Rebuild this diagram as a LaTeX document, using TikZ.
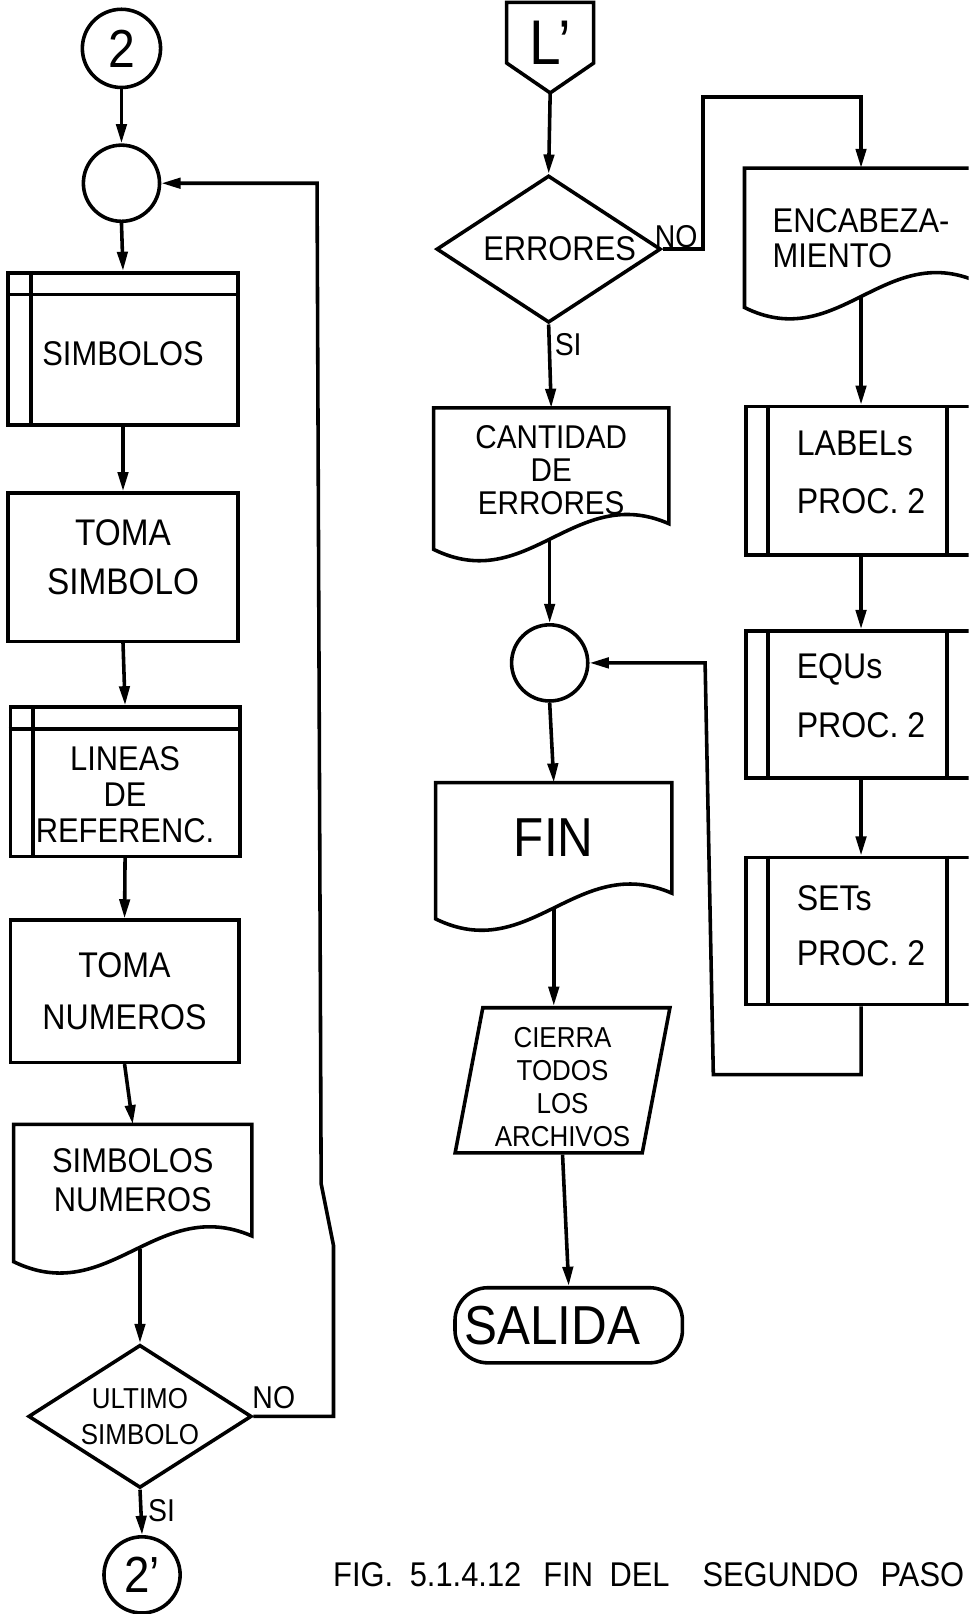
\documentclass[tikz,border=0pt]{standalone}
\usepackage{fontspec}
\setmainfont{Liberation Sans}[FakeStretch=0.9]
\usetikzlibrary{arrows.meta,calc,shapes.geometric}

\tikzset{every picture/.style={line width=2.6pt}}
\tikzset{
  fs/.style 2 args={font=\fontsize{#1}{#2}\selectfont},
  box/.style={draw, rectangle, inner sep=0pt, align=center},
  conn/.style={draw, circle, inner sep=0pt, minimum size=55.5pt},
  doc/.style={rectangle, inner sep=0pt, align=center},
  dec/.style={draw, diamond, aspect=1.55, inner sep=0pt, align=center},
  io/.style={draw, trapezium, trapezium left angle=80, trapezium right angle=100, trapezium stretches=true, inner sep=0pt, align=center},
  term/.style={draw, rectangle, rounded corners=24pt, inner sep=0pt},
  lbl/.style={inner sep=0pt, fs={23pt}{23pt}},
  arr/.style={-{Triangle[length=14pt,width=7.5pt]}},
}

\begin{document}
\begin{tikzpicture}[
            x=0.75pt,
            y=0.75pt,
            yscale=-1,
            xscale=1,
            line width=2.6pt
        ]
            \useasboundingbox (0,0) rectangle (941,1568);
            \clip (0,0) rectangle (941,1568);

            % left column
            \node[conn, minimum size=57pt, fs={39pt}{39pt}] (c2) at (118,47) {2};
            \node[conn] (j1) at (118,178) {};
            \node[box, minimum width=167.25pt, minimum height=111pt, fs={25pt}{30pt}] (sym) at (119.5,339) {\rule{0pt}{24pt}SIMBOLOS};
            \node[box, minimum width=167.25pt, minimum height=108pt, fs={27pt}{36pt}] (toma1) at (119.5,551) {TOMA\\SIMBOLO\rule[-15pt]{0pt}{15pt}};
            \node[box, minimum width=167.25pt, minimum height=108.75pt, fs={25pt}{26pt}] (lin) at (121.5,759.5) {\rule{0pt}{36pt}LINEAS\\DE\\REFERENC.};
            \node[box, minimum width=166.5pt, minimum height=103.5pt, fs={26pt}{38pt}] (toma2) at (121,963) {TOMA\\NUMEROS};
            \node[doc, minimum width=171pt, minimum height=78.75pt, fs={25pt}{29pt}] (symnum) at (129,1146.5) {SIMBOLOS\\NUMEROS};
            \node[dec, minimum width=162.75pt, minimum height=104.25pt, fs={21pt}{26pt}] (ulti) at (136,1376) {ULTIMO\\SIMBOLO};
            \node[conn, fs={37pt}{37pt}] (c2p) at (138,1530) {2’};
            \node[lbl] (noUlt) at (266,1358) {NO};
            \node[lbl] (siUlt) at (157,1468) {SI};

            % right column
            \node[doc, minimum width=60.75pt, minimum height=57pt, fs={46pt}{46pt}] (lp) at (534.5,42) {L’};
            \node[dec, minimum width=163.5pt, minimum height=107.25pt, fs={25pt}{30pt}] (err) at (533,242) {\rule{16pt}{0pt}ERRORES};
            \node[lbl] (noErr) at (657,230) {NO};
            \node[lbl] (siErr) at (552,335) {SI};
            \node[doc, minimum width=168.75pt, minimum height=81.75pt, fs={24pt}{24pt}] (cant) at (535.5,452.5) {\rule{0pt}{23pt}CANTIDAD\\DE\\ERRORES};
            \node[conn] (j2) at (534,644) {};
            \node[doc, minimum width=169.5pt, minimum height=78pt, fs={40pt}{40pt}] (fin) at (538,814) {FIN};
            \node[io, minimum width=156.75pt, minimum height=105.75pt, fs={21pt}{24pt}] (cierra) at (546.5,1049.5) {\rule{0pt}{25pt}CIERRA\\TODOS\\LOS\\ARCHIVOS};
            \node[term, minimum width=165.75pt, minimum height=54.75pt, fs={40pt}{40pt}] (sal) at (552.5,1287.5) {\hspace*{-24pt}SALIDA};

            \node[doc, align=left, minimum width=167.25pt, minimum height=80.25pt, fs={25pt}{26pt}] (encab) at (836.5,218.5) {\rule{0pt}{37pt}ENCABEZA-\\MIENTO};
            \node[box, align=left, minimum width=167.25pt, minimum height=108pt, fs={26pt}{42pt}] (lab) at (836.5,467) {LABELs\\PROC. 2\rule[-12pt]{0pt}{12pt}};
            \node[box, align=left, minimum width=167.25pt, minimum height=107.25pt, fs={26pt}{43.5pt}] (equ) at (836.5,684.5) {EQUs\\PROC. 2\rule[-13pt]{0pt}{13pt}};
            \node[box, align=left, minimum width=167.25pt, minimum height=107.25pt, fs={26pt}{40pt}] (set) at (836.5,904.5) {SETs\\PROC. 2\rule[-8pt]{0pt}{8pt}};

            \node[anchor=west, inner sep=0pt, fs={25pt}{25pt}] (caption) at (322,1530) {FIG.\hspace{12pt}5.1.4.12\hspace{16pt}FIN\hspace{12pt}DEL\hspace{24pt}SEGUNDO\hspace{16pt}PASO};

            % outlines
            \draw (lp.north west) -- (lp.north east) -- ($(lp.north east)+(0,59)$) -- ($(lp.north)+(0,88)$) -- ($(lp.north west)+(0,59)$) -- cycle;
            \foreach \d in {symnum,cant,fin,encab}
              \draw ($(\d.south west)+(0,25)$) -- (\d.north west) -- (\d.north east) -- (\d.south east)
                .. controls ($(\d.south west)!0.6!(\d.south east)+(0,-40)$) and ($(\d.south west)!0.4!(\d.south east)+(0,70)$) .. ($(\d.south west)+(0,25)$) -- cycle;
            \foreach \b in {sym,lin} {
              \draw ($(\b.north west)+(24,0)$) -- ($(\b.south west)+(24,0)$);
              \draw ($(\b.north west)+(0,23)$) -- ($(\b.north east)+(0,23)$);
            }
            \foreach \b in {lab,equ,set} {
              \draw ($(\b.north west)+(23,0)$) -- ($(\b.south west)+(23,0)$);
              \draw ($(\b.north east)+(-30,0)$) -- ($(\b.south east)+(-30,0)$);
            }

            % connectors
            \coordinate (ultLoopA) at (324,1376);
            \coordinate (ultLoopB) at (324,1210);
            \coordinate (ultLoopC) at (312,1150);
            \coordinate (ultLoopD) at (308,178);
            \coordinate (errNo) at (683,94);
            \coordinate (setLoopA) at (693,1044);
            \coordinate (setLoopB) at (685,644);

            \draw[arr] (c2) -- (j1);
            \draw[arr] (j1.south) -- (sym.north);
            \draw[arr] (sym.south) -- (toma1.north);
            \draw[arr] (toma1.south) -- (lin.north);
            \draw[arr] (lin.south) -- (toma2.north);
            \draw[arr] (toma2.south) -- (symnum.north);
            \draw[arr] ($(ulti.north |- symnum.south)+(0,13)$) -- (ulti.north);
            \draw[arr] (ulti.south) -- (c2p.north);
            \draw[arr] (ulti.east) -- (ultLoopA) -- (ultLoopB) -- (ultLoopC) -- (ultLoopD) -- (j1.east);

            \draw[arr] ($(lp.north)+(0,88)$) -- (err.north);
            \draw[arr] (err.east) -| (errNo) -| (encab.north);
            \draw[arr] (err.south) -- (cant.north);
            \draw[arr] ($(j2.north |- cant.south)+(0,14)$) -- (j2.north);
            \draw[arr] (j2.south) -- (fin.north);
            \draw[arr] ($(fin.south)+(0,14)$) -- (fin.south |- cierra.north);
            \draw[arr] (cierra.south) -- (sal.north);
            \draw[arr] ($(encab.south)+(0,14)$) -- (lab.north);
            \draw[arr] (lab.south) -- (equ.north);
            \draw[arr] (equ.south) -- (set.north);
            \draw[arr] (set.south) |- (setLoopA) -- (setLoopB) -- (j2.east);
        \end{tikzpicture}
\end{document}
